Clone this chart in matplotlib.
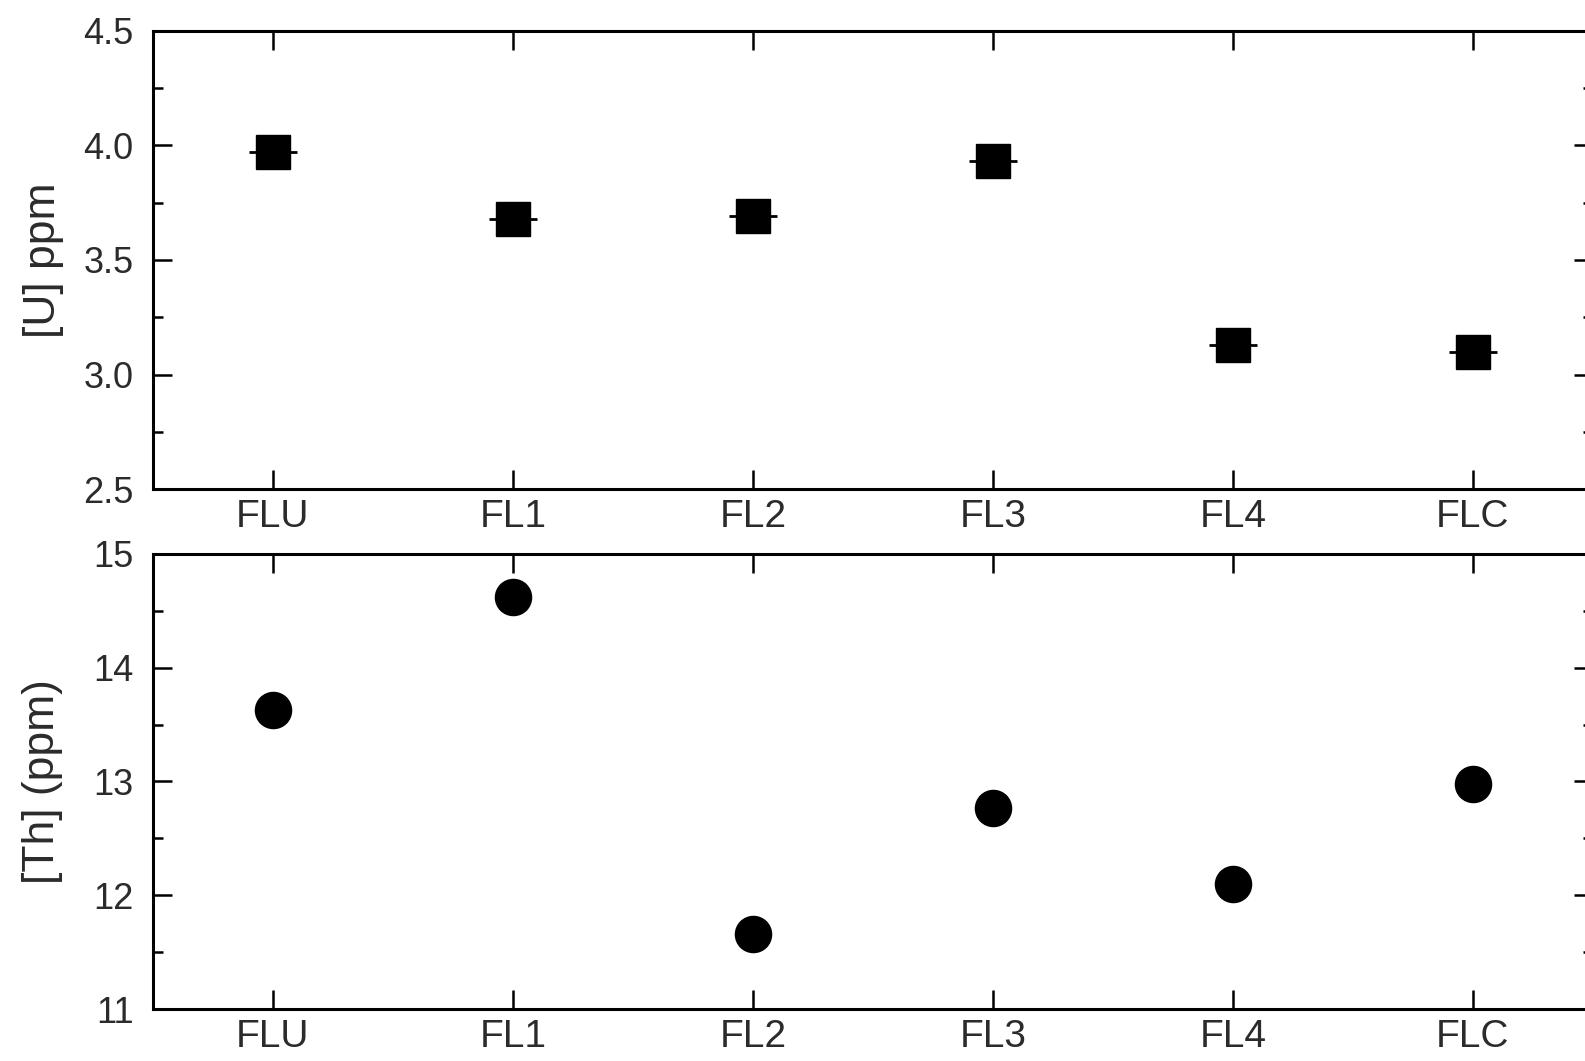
import matplotlib.pyplot as plt
from matplotlib.ticker import MultipleLocator

plt.rcParams['font.family'] = ['Liberation Sans', 'DejaVu Sans']

samples = ['FLU', 'FL1', 'FL2', 'FL3', 'FL4', 'FLC']
u_ppm = [3.97, 3.68, 3.69, 3.93, 3.13, 3.10]
th_ppm = [13.63, 14.62, 11.66, 12.77, 12.10, 12.98]

fig = plt.figure(figsize=(15.85, 10.61), dpi=100)
ax0 = fig.add_axes([0.0965, 0.539, 0.9085, 0.432])
ax1 = fig.add_axes([0.0965, 0.049, 0.9085, 0.429])

x = list(range(len(samples)))

ax0.errorbar(x, u_ppm, xerr=0.1, fmt='s', color='black', ms=24,
             elinewidth=2, capsize=0)
ax1.plot(x, th_ppm, 'o', color='black', ms=26)

for ax in (ax0, ax1):
    ax.set_xlim(-0.5, 5.5)
    ax.set_xticks(x)
    ax.set_xticklabels(samples)
    ax.tick_params(axis='both', which='major', direction='in', length=14,
                   width=1.8, top=True, right=True, colors='black',
                   labelcolor='#2b2b2b')
    ax.tick_params(axis='y', which='major', labelsize=26, pad=14)
    ax.tick_params(axis='x', which='major', labelsize=28, pad=7)
    ax.tick_params(axis='y', which='minor', direction='in', length=7,
                   width=1.8, right=True)
    for s in ax.spines.values():
        s.set_linewidth(2.2)

ax0.set_ylim(2.5, 4.5)
ax0.yaxis.set_major_locator(MultipleLocator(0.5))
ax0.yaxis.set_minor_locator(MultipleLocator(0.25))
ax0.set_ylabel('[U] ppm', fontsize=32, color='#2b2b2b', labelpad=14)

ax1.set_ylim(11, 15)
ax1.yaxis.set_major_locator(MultipleLocator(1))
ax1.yaxis.set_minor_locator(MultipleLocator(0.5))
ax1.set_ylabel('[Th] (ppm)', fontsize=32, color='#2b2b2b', labelpad=22)

fig.savefig('out.png', dpi=100)
